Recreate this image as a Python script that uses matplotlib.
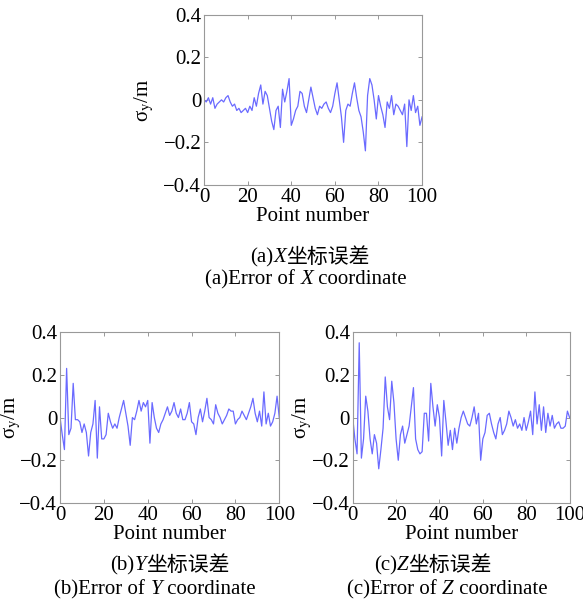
import matplotlib
matplotlib.use("Agg")
import matplotlib.pyplot as plt
from matplotlib.ticker import FuncFormatter

# point index and the three error series
points = list(range(0, 101))

err_x = [0.0, -0.01, 0.01, -0.02, 0.01, -0.04, -0.02, -0.01, 0.0, -0.01,
         0.01, 0.02, -0.01, -0.03, -0.02, -0.05, -0.04, -0.06, -0.05, -0.04,
         -0.06, -0.03, -0.05, 0.01, -0.03, 0.03, 0.07, -0.02, 0.04, 0.02,
         -0.04, -0.1, -0.14, -0.05, -0.03, -0.13, 0.05, -0.01, 0.04, 0.1,
         -0.12, -0.09, -0.05, -0.03, 0.04, 0.03, -0.03, -0.06, 0.0, 0.06,
         0.01, -0.04, -0.07, -0.03, -0.04, -0.02, -0.01, -0.04, -0.06, -0.03,
         0.03, 0.08, 0.0, -0.08, -0.2, -0.05, -0.02, -0.03, 0.03, 0.08,
         0.01, -0.05, -0.08, -0.15, -0.24, 0.02, 0.1, 0.07, 0.0, -0.09,
         0.02, -0.03, -0.07, -0.13, -0.01, -0.04, 0.02, -0.07, -0.02, -0.03,
         -0.05, -0.07, -0.02, -0.22, 0.0, -0.05, 0.02, -0.06, -0.03, -0.12,
         -0.08]

err_y = [0.0, -0.08, -0.15, 0.23, -0.08, -0.05, 0.16, -0.01, -0.01, -0.02,
         -0.07, -0.03, -0.07, -0.18, -0.07, -0.03, 0.08, -0.19, 0.05, -0.1,
         -0.1, -0.08, 0.02, -0.02, -0.05, -0.03, -0.05, 0.0, 0.04, 0.08,
         0.02, -0.04, -0.13, 0.0, -0.01, 0.03, 0.08, 0.03, 0.07, 0.05,
         0.08, -0.12, 0.07, 0.0, -0.05, -0.07, -0.03, -0.01, 0.02, 0.05,
         0.01, 0.03, 0.07, 0.02, 0.0, 0.04, -0.01, -0.01, 0.02, 0.07,
         -0.02, -0.03, -0.08, 0.0, 0.04, -0.02, 0.03, 0.09, 0.0, -0.01,
         -0.03, 0.06, 0.02, 0.0, -0.03, -0.01, 0.01, 0.04, 0.03, 0.03,
         -0.03, -0.01, 0.0, 0.03, 0.01, -0.01, 0.02, 0.05, 0.09, 0.02,
         -0.02, 0.03, -0.04, 0.12, -0.03, 0.02, -0.04, -0.02, 0.02, 0.1,
         0.0]

err_z = [0.0, -0.1, -0.17, 0.35, -0.19, -0.1, 0.1, 0.03, -0.1, -0.17,
         -0.08, -0.12, -0.24, -0.15, -0.05, 0.19, 0.05, -0.01, 0.17, 0.07,
         -0.1, -0.2, -0.08, -0.04, -0.12, -0.08, -0.04, 0.05, 0.14, -0.1,
         -0.15, -0.17, -0.16, 0.02, 0.02, -0.11, 0.16, 0.05, -0.04, 0.06,
         0.0, -0.18, 0.08, -0.02, -0.13, -0.06, -0.15, -0.05, -0.12, -0.05,
         0.0, 0.03, 0.0, -0.03, -0.04, 0.0, 0.05, -0.03, 0.02, -0.2,
         -0.1, -0.07, 0.01, 0.02, -0.03, -0.07, -0.1, -0.03, 0.0, -0.08,
         -0.06, -0.03, 0.03, 0.0, -0.04, -0.01, -0.05, -0.03, -0.06, 0.0,
         -0.06, -0.02, 0.03, -0.08, 0.12, -0.03, 0.06, -0.06, 0.05, -0.07,
         0.02, -0.04, 0.01, -0.05, -0.03, -0.02, -0.05, -0.05, -0.04, 0.03,
         0.0]

x_ticks = [0, 20, 40, 60, 80, 100]
y_ticks = [-0.4, -0.2, 0, 0.2, 0.4]

# caption pieces: (text, italic?)
captions = [
    ([("(a)", False), ("X", True), ("坐标误差", False)],
     [("(a)Error of ", False), ("X", True), (" coordinate", False)]),
    ([("(b)", False), ("Y", True), ("坐标误差", False)],
     [("(b)Error of ", False), ("Y", True), (" coordinate", False)]),
    ([("(c)", False), ("Z", True), ("坐标误差", False)],
     [("(c)Error of ", False), ("Z", True), (" coordinate", False)]),
]

plt.rcParams["font.family"] = ["Liberation Serif", "Noto Sans CJK SC"]
plt.rcParams["mathtext.fontset"] = "stix"


def fmt(v, pos):
    if abs(v) < 1e-9:
        return "0"
    return ("%.1f" % v).replace("-", "\u2212")


def draw(ax, data, label_x):
    ax.plot(points, data, color="#6a6aff", lw=0.9)
    ax.set_xlim(0, 100)
    ax.set_ylim(-0.4, 0.4)
    ax.set_xticks(x_ticks)
    ax.set_yticks(y_ticks)
    ax.yaxis.set_major_formatter(FuncFormatter(fmt))
    ax.tick_params(direction="in", top=True, right=True, length=3,
                   width=0.6, color="#888888", labelsize=15, pad=2)
    for s in ax.spines.values():
        s.set_color("#999999")
        s.set_linewidth(0.8)
    ax.set_xlabel("Point number", fontsize=15, labelpad=0)
    ax.set_ylabel("σ$_{\\rm y}$/m", fontsize=15)
    ax.yaxis.set_label_coords(label_x, 0.5)


def caption(fig, pieces, xc, yc, size=15):
    # put the pieces one after another, centred on xc
    r = fig.canvas.get_renderer()
    texts = []
    for s, it in pieces:
        t = fig.text(0, 1 - yc / 606, s, fontsize=size, va="center",
                     fontstyle="italic" if it else "normal")
        texts.append(t)
    widths = [t.get_window_extent(r).width for t in texts]
    x = xc - sum(widths) / 2
    for t, w in zip(texts, widths):
        t.set_x(x / 583)
        x += w


fig = plt.figure(figsize=(5.83, 6.06), dpi=100)

ax1 = fig.add_axes([0.350, 0.695, 0.374, 0.2805])
ax2 = fig.add_axes([0.103, 0.170, 0.376, 0.282])
ax3 = fig.add_axes([0.605, 0.170, 0.372, 0.282])

draw(ax1, err_x, -0.22)
draw(ax2, err_y, -0.17)
draw(ax3, err_z, -0.18)

caption(fig, captions[0][0], 310, 258)
caption(fig, captions[0][1], 306, 280)
caption(fig, captions[1][0], 170, 566)
caption(fig, captions[1][1], 155, 590)
caption(fig, captions[2][0], 433, 566)
caption(fig, captions[2][1], 447, 590)

fig.savefig("out.png", dpi=100)
